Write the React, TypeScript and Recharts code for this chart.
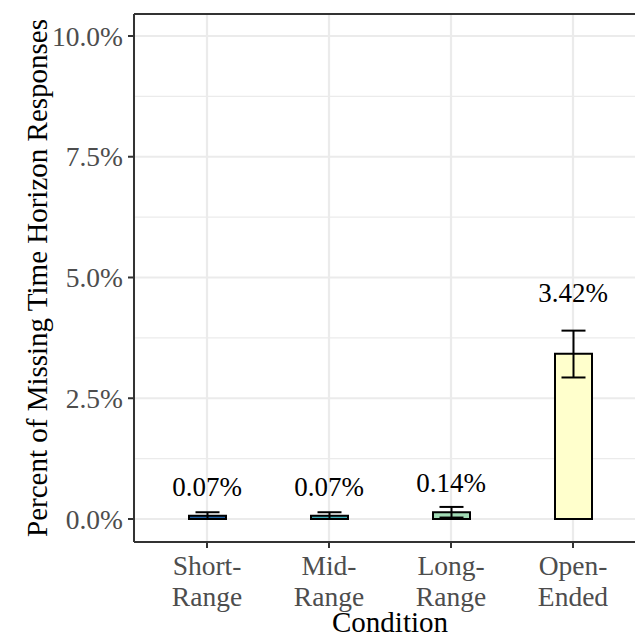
import { ComposedChart, Bar, Cell, ErrorBar, Line, LabelList, XAxis, YAxis, CartesianGrid, ReferenceLine, Label } from 'recharts'

const conditions = ['Short-Range', 'Mid-Range', 'Long-Range', 'Open-Ended']
const missingPct = [0.07, 0.07, 0.14, 3.42]
const lowerCI = [0.0, 0.0, 0.03, 2.93]
const upperCI = [0.14, 0.14, 0.25, 3.9]
const labelHeights = [0.67, 0.67, 0.76, 4.69]
const barColors = ['#2163a6', '#41b0bb', '#a1dab4', '#ffffcc']

const yTicks = [0, 2.5, 5, 7.5, 10]
const minorTicks = [1.25, 3.75, 6.25, 8.75]

const data = conditions.map((name, i) => ({
  name,
  value: missingPct[i],
  err: [missingPct[i] - lowerCI[i], upperCI[i] - missingPct[i]],
  labelAt: labelHeights[i],
  text: missingPct[i].toFixed(2) + '%',
}))

const FONT = '"Liberation Serif", "Times New Roman", serif'
const Y_DOMAIN: [number, number] = [-0.476, 10.455]

function XTick(props: any) {
  const { x, y, payload } = props
  const parts = String(payload.value).split('-')
  return (
    <text x={x} y={y} textAnchor="middle" fontFamily={FONT} fontSize={27.5} fill="#4d4d4d">
      <tspan x={x} dy={25}>{parts[0] + '-'}</tspan>
      <tspan x={x} dy={31}>{parts[1]}</tspan>
    </text>
  )
}

function BarLabel(props: any) {
  const { x, y, value } = props
  return (
    <text x={x} y={y} dy={9.5} textAnchor="middle" fontFamily={FONT} fontSize={27} fill="#000">
      {value}
    </text>
  )
}

export default function App() {
  return (
    <div style={{ position: 'fixed', left: 0, top: 0, width: 635, height: 639, overflow: 'hidden', background: '#fff' }}>
      <ComposedChart
        width={650}
        height={639}
        data={data}
        margin={{ top: 14, right: 4, bottom: 0, left: 0 }}
      >
        {/* minor grid behind everything, via a hidden axis */}
        <CartesianGrid yAxisId="minor" vertical={false} stroke="#ebebeb" strokeWidth={1.1} />
        <CartesianGrid stroke="#ebebeb" strokeWidth={2.2} />
        <XAxis
          dataKey="name"
          padding={{ left: 12, right: 12 }}
          height={97}
          tickSize={6}
          tick={<XTick />}
          tickLine={{ stroke: '#333', strokeWidth: 2 }}
          axisLine={{ stroke: '#333', strokeWidth: 2 }}
        >
          <Label
            content={() => (
              <text x={390} y={632} textAnchor="middle" fontFamily={FONT} fontSize={29} fill="#000">
                Condition
              </text>
            )}
          />
        </XAxis>
        <YAxis
          type="number"
          domain={Y_DOMAIN}
          allowDataOverflow
          ticks={yTicks}
          interval={0}
          width={134}
          tickSize={6}
          tickMargin={5}
          tickFormatter={(v: number) => v.toFixed(1) + '%'}
          tick={{ fontFamily: FONT, fontSize: 27.5, fill: '#4d4d4d' }}
          tickLine={{ stroke: '#333', strokeWidth: 2 }}
          axisLine={{ stroke: '#333', strokeWidth: 2 }}
        >
          <Label
            content={() => (
              <text
                x={37}
                y={278}
                transform="rotate(-90 37 278)"
                textAnchor="middle"
                dominantBaseline="central"
                fontFamily={FONT}
                fontSize={29}
                fill="#000"
              >
                Percent of Missing Time Horizon Responses
              </text>
            )}
          />
        </YAxis>
        <YAxis
          yAxisId="minor"
          orientation="right"
          type="number"
          domain={Y_DOMAIN}
          allowDataOverflow
          ticks={minorTicks}
          interval={0}
          width={0}
          hide
        />
        <ReferenceLine y={Y_DOMAIN[1]} stroke="#333" strokeWidth={2} />
        <Bar dataKey="value" barSize={37} stroke="#000" strokeWidth={2} isAnimationActive={false}>
          {data.map((d, i) => (
            <Cell key={d.name} fill={barColors[i]} />
          ))}
          <ErrorBar dataKey="err" width={12} stroke="#000" strokeWidth={2} direction="y" />
        </Bar>
        <Line dataKey="labelAt" stroke="none" dot={false} activeDot={false} isAnimationActive={false}>
          <LabelList dataKey="text" content={<BarLabel />} />
        </Line>
      </ComposedChart>
    </div>
  )
}
